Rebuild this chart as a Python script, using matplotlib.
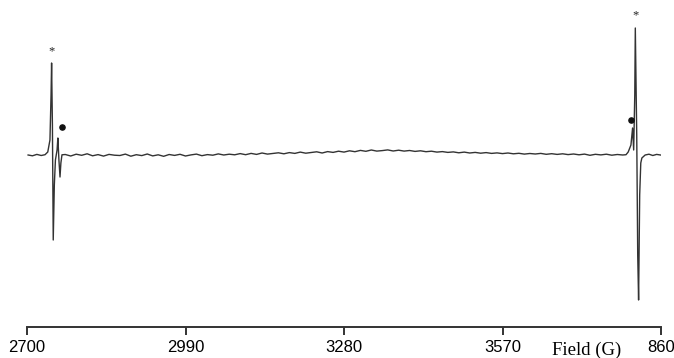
import numpy as np
import matplotlib
matplotlib.use("Agg")
from matplotlib import pyplot as plt

# EPR spectrum (field in G, intensity in arbitrary units)
left_field = [2702, 2710, 2718, 2726, 2733, 2738, 2742, 2744, 2745, 2746.5,
              2748, 2750, 2752, 2755, 2756.5, 2758.4, 2760.4, 2762, 2764]
left_signal = [0.0, -0.8, 0.6, -0.5, 0.3, 3, 15, 60, 92, 30,
               -85, -30, -5, 5, 17, -5, -22, -8, 0.2]

# baseline between the two lines, one value every 10 G from 2770 to 3790
base_start, base_step = 2770, 10
base_signal = [
    0.5, -1.0, 0.8, -0.3, 1.2, -0.8, 0.4, -1.1, 0.6, -0.2,
    -0.5, 0.9, -1.2, 0.3, -0.6, 1.0, -0.9, 0.2, -1.3, 0.5,
    -0.4, 0.7, -1.0, 0.1, 0.9, -0.7, 0.4, -0.2, 1.1, 0.0,
    0.8, 0.2, 1.4, 0.3, 1.6, 0.6, 2.0, 0.9, 1.5, 2.2,
    1.2, 2.4, 1.6, 2.9, 1.8, 2.5, 3.2, 2.0, 3.4, 2.6,
    3.8, 2.9, 4.2, 3.3, 4.6, 3.7, 5.0, 3.9, 4.4, 5.1,
    4.0, 4.8, 3.9, 4.5, 3.6, 4.2, 3.3, 3.8, 2.9, 3.4,
    2.6, 3.1, 2.2, 2.9, 2.0, 2.6, 1.8, 2.4, 1.6, 2.1,
    1.4, 2.0, 1.2, 1.7, 0.9, 1.5, 1.0, 1.6, 0.7, 1.3,
    0.6, 1.2, 0.4, 1.0, 0.2, 0.9, -0.3, 0.7, 0.1, 0.8,
    -0.2, 0.5, 0.0]

right_field = [3796, 3800, 3805, 3808, 3810, 3812, 3813, 3815.6, 3817.4,
               3819, 3821, 3823, 3825, 3831, 3838, 3845, 3852, 3859]
right_signal = [0.3, 3, 10, 27, 5, 60, 127, 20, -100,
                -145, -40, -8, -3, 0.0, 0.8, -0.5, 0.6, 0.0]

# feature labels: '*' and dot positions (field, intensity)
star_pos = [(2745.5, 104), (3813.5, 140)]
dot_pos = [(2763.5, 28), (3805.5, 35)]

tick_fields = [2700, 2990, 3280, 3570, 3860]
tick_labels = ["2700", "2990", "3280", "3570", "860"]

base_field = base_start + base_step * np.arange(len(base_signal))
field = np.concatenate([left_field, base_field, right_field])
signal = np.concatenate([left_signal, base_signal, right_signal])

fig = plt.figure(figsize=(6.74, 3.58), dpi=100)
ax = fig.add_axes([27 / 674, 31 / 358, 634 / 674, 322 / 358])
ax.plot(field, signal, color="#333333", lw=1.0)

for fx, fy in star_pos:
    ax.text(fx, fy, "*", ha="center", va="center", fontsize=9,
            color="#222222", family="Liberation Serif")
ax.scatter([p[0] for p in dot_pos], [p[1] for p in dot_pos],
           s=14, color="#111111", zorder=3)

ax.set_xlim(2700, 3860)
ax.set_ylim(-172, 150)
for side in ["top", "right", "left"]:
    ax.spines[side].set_visible(False)
ax.spines["bottom"].set_linewidth(1.4)
ax.spines["bottom"].set_color("#333333")
ax.set_yticks([])
ax.set_xticks(tick_fields)
ax.set_xticklabels(tick_labels, family="Liberation Sans", fontsize=12)
ax.tick_params(axis="x", direction="out", length=6, width=1.4,
               color="#333333", pad=3.5)
fig.text(587 / 674, 8 / 358, "Field (G)", family="Liberation Serif",
         fontsize=13.5, ha="center", va="center")

fig.savefig("out.png", dpi=100)
